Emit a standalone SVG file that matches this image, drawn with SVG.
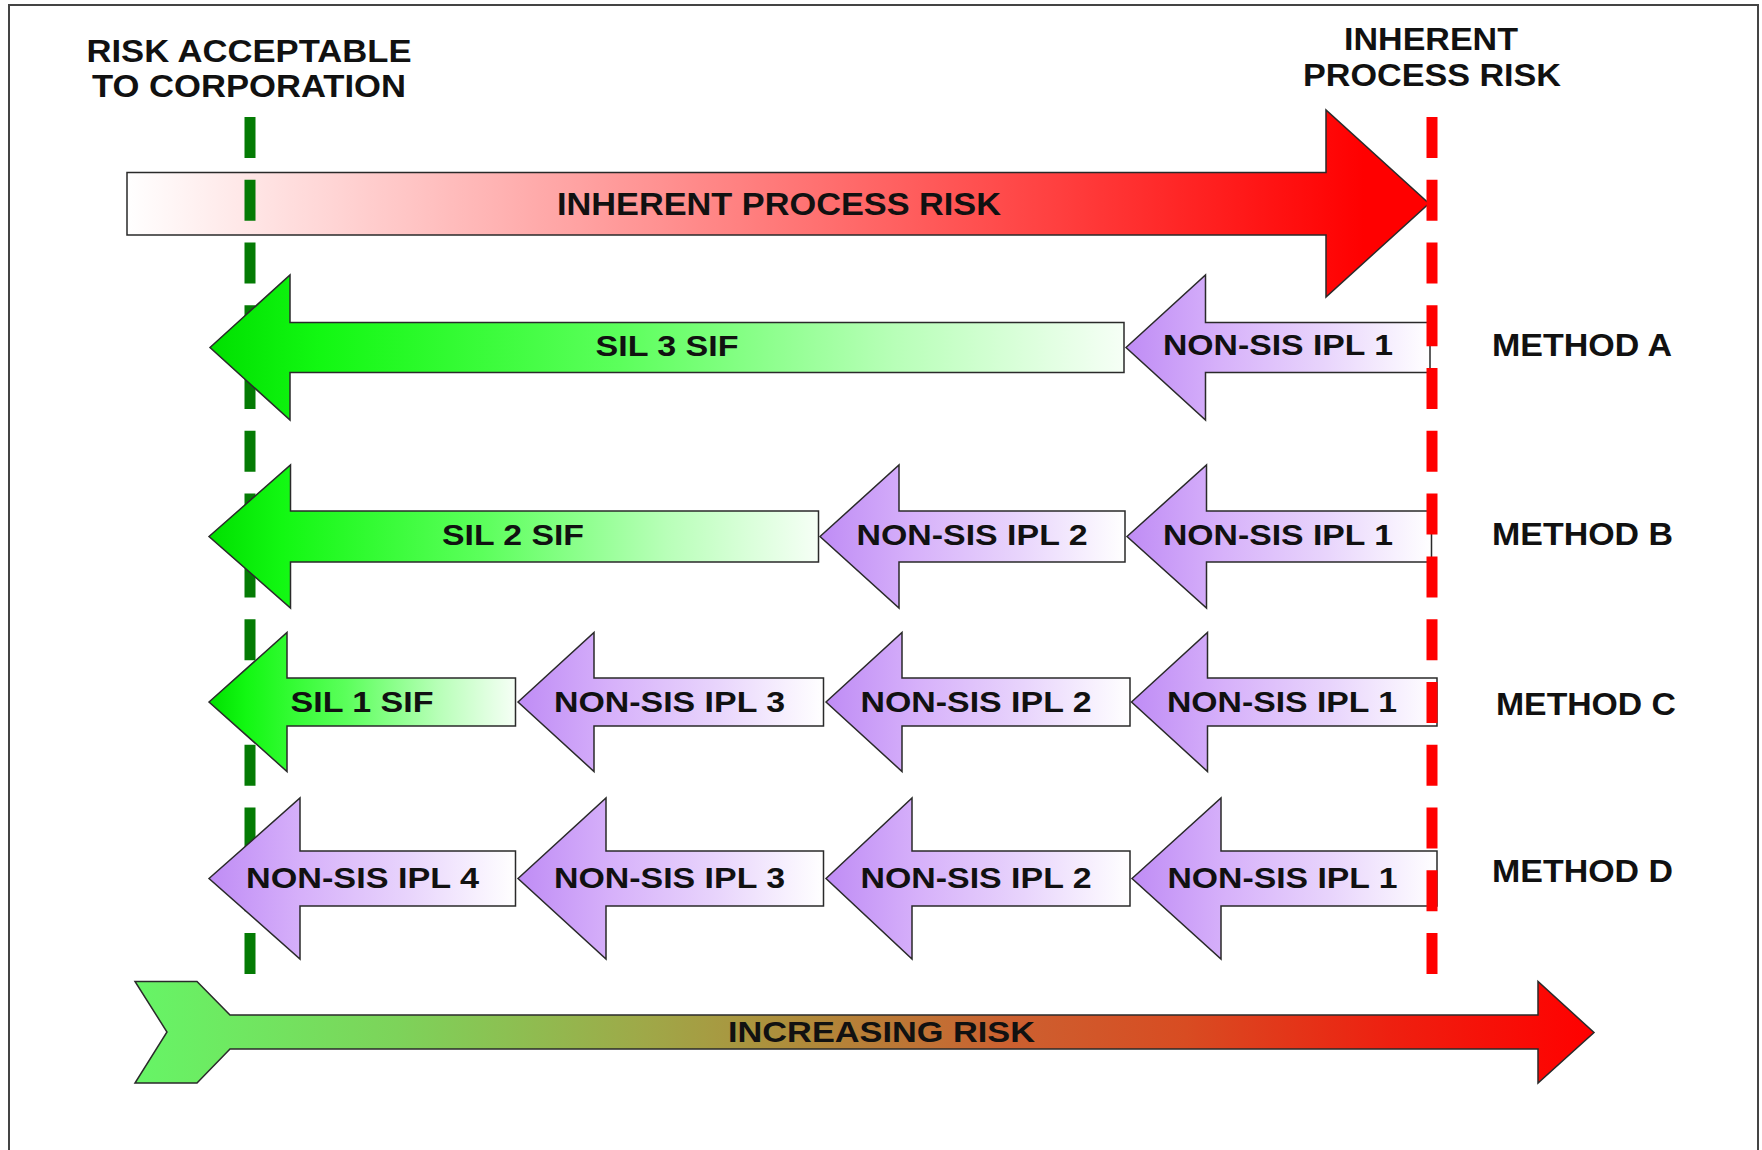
<svg xmlns="http://www.w3.org/2000/svg" width="1762" height="1150" viewBox="0 0 1762 1150">
  <defs>
    <linearGradient id="gRed" x1="0" y1="0" x2="1" y2="0">
      <stop offset="0" stop-color="#ffffff"/>
      <stop offset="0.95" stop-color="#ff0000"/>
      <stop offset="1" stop-color="#ff0000"/>
    </linearGradient>
    <linearGradient id="gGreen" x1="0" y1="0" x2="1" y2="0">
      <stop offset="0" stop-color="#00e000"/>
      <stop offset="0.12" stop-color="#12f812"/>
      <stop offset="0.45" stop-color="#5cff5c"/>
      <stop offset="0.75" stop-color="#b8ffb8"/>
      <stop offset="1" stop-color="#f6fff6"/>
    </linearGradient>
    <linearGradient id="gPurple" x1="0" y1="0" x2="1" y2="0">
      <stop offset="0" stop-color="#bf8cf5"/>
      <stop offset="0.3" stop-color="#d6b0fa"/>
      <stop offset="0.65" stop-color="#e8d4fc"/>
      <stop offset="1" stop-color="#ffffff"/>
    </linearGradient>
    <linearGradient id="gRisk" x1="0" y1="0" x2="1" y2="0">
      <stop offset="0" stop-color="#66f566"/>
      <stop offset="0.18" stop-color="#7dd35a"/>
      <stop offset="0.35" stop-color="#9fa848"/>
      <stop offset="0.46" stop-color="#b08a3a"/>
      <stop offset="0.6" stop-color="#cc6030"/>
      <stop offset="0.72" stop-color="#d84c22"/>
      <stop offset="0.86" stop-color="#ee2010"/>
      <stop offset="1" stop-color="#ff0000"/>
    </linearGradient>
  </defs>
  <style>
    .lbl { font-family: "Liberation Sans", Arial, sans-serif; font-weight: 700; font-size: 30px; fill: #111; text-anchor: middle; }
    .hdr { font-size: 31px; }
    .arrow { stroke: #2a2a2a; stroke-width: 1.5; stroke-linejoin: miter; }
    .sif { fill: url(#gGreen); }
    .ipl { fill: url(#gPurple); }
    .dash { fill: none; stroke-width: 11; stroke-dasharray: 41 21.77; }
  </style>

  <!-- outer frame -->
  <rect x="9" y="5" width="1749" height="1160" fill="#fff" stroke="#444" stroke-width="2"/>

  <!-- header labels -->
  <g id="label-acceptable">
    <text class="lbl hdr" x="249" y="62" textLength="325" lengthAdjust="spacingAndGlyphs">RISK ACCEPTABLE</text>
    <text class="lbl hdr" x="249" y="97" textLength="314" lengthAdjust="spacingAndGlyphs">TO CORPORATION</text>
  </g>
  <g id="label-inherent">
    <text class="lbl hdr" x="1431" y="50" textLength="174" lengthAdjust="spacingAndGlyphs">INHERENT</text>
    <text class="lbl hdr" x="1432" y="86" textLength="258" lengthAdjust="spacingAndGlyphs">PROCESS RISK</text>
  </g>

  <!-- inherent process risk arrow -->
  <g id="inherent-risk">
    <path class="arrow" fill="url(#gRed)" d="M127,172.5 L1326,172.5 L1326,110 L1429,203.5 L1326,297 L1326,235 L127,235 Z"/>
    <text class="lbl hdr" x="779" y="214.5" textLength="444" lengthAdjust="spacingAndGlyphs">INHERENT PROCESS RISK</text>
  </g>

  <!-- acceptable risk guide -->
  <g id="guide-acceptable">
    <line class="dash" x1="250" y1="117" x2="250" y2="974" stroke="#047b04"/>
  </g>

  <!-- Method A -->
  <g id="a-sil3">
    <path class="arrow sif" d="M210,347.5 L290,275 L290,322.5 L1124,322.5 L1124,372.5 L290,372.5 L290,420 Z"/>
    <text class="lbl" x="667" y="356" textLength="143" lengthAdjust="spacingAndGlyphs">SIL 3 SIF</text>
  </g>
  <g id="a-ipl1">
    <path class="arrow ipl" d="M1126,347.5 L1205.5,275 L1205.5,322.5 L1430,322.5 L1430,372.5 L1205.5,372.5 L1205.5,420 Z"/>
    <text class="lbl" x="1278" y="355" textLength="230" lengthAdjust="spacingAndGlyphs">NON-SIS IPL 1</text>
  </g>

  <!-- Method B -->
  <g id="b-sil2">
    <path class="arrow sif" d="M209,536.5 L290.5,465 L290.5,511 L818.5,511 L818.5,562 L290.5,562 L290.5,608 Z"/>
    <text class="lbl" x="513" y="545" textLength="142" lengthAdjust="spacingAndGlyphs">SIL 2 SIF</text>
  </g>
  <g id="b-ipl2">
    <path class="arrow ipl" d="M820,536.5 L899,465 L899,511 L1125,511 L1125,562 L899,562 L899,608 Z"/>
    <text class="lbl" x="972" y="545" textLength="231" lengthAdjust="spacingAndGlyphs">NON-SIS IPL 2</text>
  </g>
  <g id="b-ipl1">
    <path class="arrow ipl" d="M1127,536.5 L1206.5,465 L1206.5,511 L1431.5,511 L1431.5,562 L1206.5,562 L1206.5,608 Z"/>
    <text class="lbl" x="1278" y="545" textLength="230" lengthAdjust="spacingAndGlyphs">NON-SIS IPL 1</text>
  </g>

  <!-- Method C -->
  <g id="c-sil1">
    <path class="arrow sif" d="M209,702 L287,632.5 L287,678 L515.5,678 L515.5,726 L287,726 L287,771.5 Z"/>
    <text class="lbl" x="362" y="712" textLength="143" lengthAdjust="spacingAndGlyphs">SIL 1 SIF</text>
  </g>
  <g id="c-ipl3">
    <path class="arrow ipl" d="M518,702 L594,632.5 L594,678 L823.5,678 L823.5,726 L594,726 L594,771.5 Z"/>
    <text class="lbl" x="669.5" y="712" textLength="231" lengthAdjust="spacingAndGlyphs">NON-SIS IPL 3</text>
  </g>
  <g id="c-ipl2">
    <path class="arrow ipl" d="M826,702 L902,632.5 L902,678 L1130,678 L1130,726 L902,726 L902,771.5 Z"/>
    <text class="lbl" x="976" y="712" textLength="231" lengthAdjust="spacingAndGlyphs">NON-SIS IPL 2</text>
  </g>
  <g id="c-ipl1">
    <path class="arrow ipl" d="M1131.5,702 L1207.5,632.5 L1207.5,678 L1437,678 L1437,726 L1207.5,726 L1207.5,771.5 Z"/>
    <text class="lbl" x="1282" y="712" textLength="230" lengthAdjust="spacingAndGlyphs">NON-SIS IPL 1</text>
  </g>

  <!-- Method D -->
  <g id="d-ipl4">
    <path class="arrow ipl" d="M209,878.5 L300,798 L300,851 L515.5,851 L515.5,906 L300,906 L300,959 Z"/>
    <text class="lbl" x="362.5" y="888" textLength="233" lengthAdjust="spacingAndGlyphs">NON-SIS IPL 4</text>
  </g>
  <g id="d-ipl3">
    <path class="arrow ipl" d="M518,878.5 L606,798 L606,851 L823.5,851 L823.5,906 L606,906 L606,959 Z"/>
    <text class="lbl" x="669.5" y="888" textLength="231" lengthAdjust="spacingAndGlyphs">NON-SIS IPL 3</text>
  </g>
  <g id="d-ipl2">
    <path class="arrow ipl" d="M826,878.5 L912,798 L912,851 L1130,851 L1130,906 L912,906 L912,959 Z"/>
    <text class="lbl" x="976" y="888" textLength="231" lengthAdjust="spacingAndGlyphs">NON-SIS IPL 2</text>
  </g>
  <g id="d-ipl1">
    <path class="arrow ipl" d="M1132,878.5 L1221,798 L1221,851 L1437,851 L1437,906 L1221,906 L1221,959 Z"/>
    <text class="lbl" x="1282.5" y="888" textLength="230" lengthAdjust="spacingAndGlyphs">NON-SIS IPL 1</text>
  </g>

  <!-- inherent risk guide, drawn over the arrows -->
  <g id="guide-inherent">
    <line class="dash" x1="1432" y1="117" x2="1432" y2="974" stroke="#ff0000"/>
  </g>

  <!-- method names -->
  <g id="method-a"><text class="lbl hdr" x="1582" y="356" textLength="180" lengthAdjust="spacingAndGlyphs">METHOD A</text></g>
  <g id="method-b"><text class="lbl hdr" x="1582.5" y="545" textLength="181" lengthAdjust="spacingAndGlyphs">METHOD B</text></g>
  <g id="method-c"><text class="lbl hdr" x="1586" y="715" textLength="180" lengthAdjust="spacingAndGlyphs">METHOD C</text></g>
  <g id="method-d"><text class="lbl hdr" x="1582.5" y="882" textLength="181" lengthAdjust="spacingAndGlyphs">METHOD D</text></g>

  <!-- increasing risk scale -->
  <g id="increasing-risk">
    <path class="arrow" fill="url(#gRisk)" d="M135,981.5 L197,981.5 L230,1015 L1538,1015 L1538,981.5 L1594,1032.5 L1538,1083 L1538,1049 L230,1049 L197,1083 L135,1083 L167,1032 Z"/>
    <text class="lbl" x="881.5" y="1042" textLength="307" lengthAdjust="spacingAndGlyphs">INCREASING RISK</text>
  </g>
</svg>
